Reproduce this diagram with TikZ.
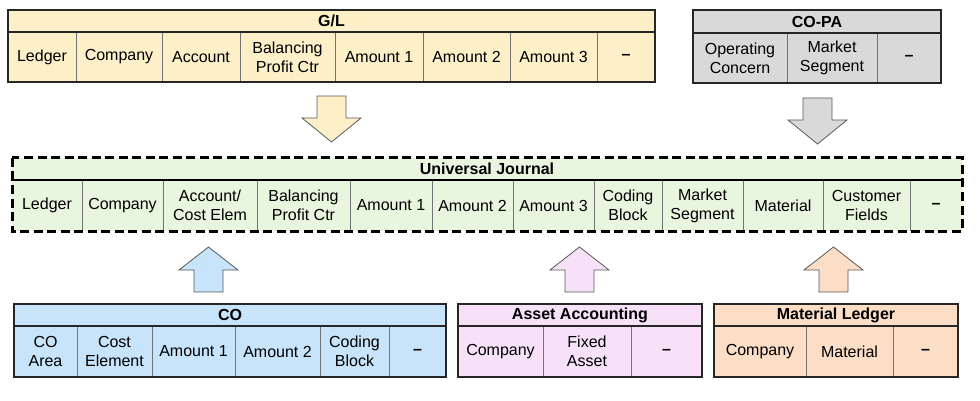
\documentclass[tikz,border=0pt]{standalone}
\usepackage{fontspec}
\setmainfont{Liberation Sans}

\definecolor{glfill}{HTML}{FDF0C9}
\definecolor{copafill}{HTML}{D9D9D9}
\definecolor{ujfill}{HTML}{E8F6DF}
\definecolor{cofill}{HTML}{C7E4FA}
\definecolor{aafill}{HTML}{F6E1F9}
\definecolor{mlfill}{HTML}{FCDDC6}

\begin{document}
\begin{tikzpicture}
	[x=1pt, y=-1pt,
	every node/.style={inner sep=0pt, outer sep=0pt, align=center, font=\fontsize{16}{19}\selectfont},
	cell/.style={minimum height=50pt},
	head/.style={minimum height=22pt, font=\fontsize{16}{19}\selectfont\bfseries},
	sep/.style={draw=black!55, line width=0.9pt},
	frame/.style={draw=black!85, line width=2pt},
	dashframe/.style={draw=black, line width=3pt, dash pattern=on 9pt off 4.5pt},
	blockarrow/.style={draw=black!65, line width=0.8pt}]
	\useasboundingbox (0,0) rectangle (980,401);
	% G/L
	\node[head, fill=glfill, minimum width=647pt] (gl) at (331.5,21) {G/L};
	\foreach \xl/\xr/\txt [count=\i] in {8/76/Ledger, 76/162/Company, 162/240/Account,
		240/335/{Balancing\\Profit Ctr}, 335/423/Amount 1, 423/510/Amount 2, 510/597/Amount 3, 597/655/\textbf{\textendash}}
		\node[cell, fill=glfill, minimum width=\xr pt-\xl pt] (gl-\i) at ({(\xl+\xr)/2},57) {\txt};
	\foreach \i in {1,...,7}
		\draw[sep] (gl-\i.north east) -- (gl-\i.south east);
	\draw[frame] (gl.south west) -- (gl.south east);
	\draw[frame] (gl.north west) rectangle (gl-8.south east);
	% CO-PA
	\node[head, fill=copafill, minimum width=248pt, minimum height=23pt] (copa) at (817,21.5) {CO-PA};
	\foreach \xl/\xr/\txt [count=\i] in {693/787/{Operating\\Concern}, 787/877/{Market\\Segment}, 877/941/\textbf{\textendash}}
		\node[cell, fill=copafill, minimum width=\xr pt-\xl pt] (copa-\i) at ({(\xl+\xr)/2},58) {\txt};
	\foreach \i in {1,2}
		\draw[sep] (copa-\i.north east) -- (copa-\i.south east);
	\draw[frame] (copa.south west) -- (copa.south east);
	\draw[frame] (copa.north west) rectangle (copa-3.south east);
	% Universal Journal
	\node[head, fill=ujfill, minimum width=950pt] (uj) at (487,169) {Universal Journal};
	\foreach \xl/\xr/\txt [count=\i] in {12/82/Ledger, 82/163/Company, 163/257/{Account/\\Cost Elem},
		257/350/{Balancing\\Profit Ctr}, 350/432/Amount 1, 432/513/Amount 2, 513/594/Amount 3,
		594/662/{Coding\\Block}, 662/743/{Market\\Segment}, 743/823/Material, 823/910/{Customer\\Fields}, 910/962/\textbf{\textendash}}
		\node[cell, fill=ujfill, minimum width=\xr pt-\xl pt, minimum height=51pt] (uj-\i) at ({(\xl+\xr)/2},205.5) {\txt};
	\foreach \i in {1,...,11}
		\draw[sep] (uj-\i.north east) -- (uj-\i.south east);
	\draw[frame, draw=black] (uj.south west) -- (uj.south east);
	\draw[dashframe] (uj.north west) rectangle (uj-12.south east);
	% CO
	\node[head, fill=cofill, minimum width=432pt] (co) at (230,315) {CO};
	\foreach \xl/\xr/\txt [count=\i] in {14/77/{CO\\Area}, 77/152/{Cost\\Element}, 152/235/Amount 1,
		235/320/Amount 2, 320/389/{Coding\\Block}, 389/446/\textbf{\textendash}}
		\node[cell, fill=cofill, minimum width=\xr pt-\xl pt, minimum height=51pt] (co-\i) at ({(\xl+\xr)/2},351.5) {\txt};
	\foreach \i in {1,...,5}
		\draw[sep] (co-\i.north east) -- (co-\i.south east);
	\draw[frame] (co.south west) -- (co.south east);
	\draw[frame] (co.north west) rectangle (co-6.south east);
	% Asset Accounting
	\node[head, fill=aafill, minimum width=244pt] (aa) at (580,315) {Asset Accounting};
	\foreach \xl/\xr/\txt [count=\i] in {458/543/Company, 543/631/{Fixed\\Asset}, 631/702/\textbf{\textendash}}
		\node[cell, fill=aafill, minimum width=\xr pt-\xl pt, minimum height=51pt] (aa-\i) at ({(\xl+\xr)/2},351.5) {\txt};
	\foreach \i in {1,2}
		\draw[sep] (aa-\i.north east) -- (aa-\i.south east);
	\draw[frame] (aa.south west) -- (aa.south east);
	\draw[frame] (aa.north west) rectangle (aa-3.south east);
	% Material Ledger
	\node[head, fill=mlfill, minimum width=244pt] (ml) at (836,315) {Material Ledger};
	\foreach \xl/\xr/\txt [count=\i] in {714/806/Company, 806/893/Material, 893/958/\textbf{\textendash}}
		\node[cell, fill=mlfill, minimum width=\xr pt-\xl pt, minimum height=51pt] (ml-\i) at ({(\xl+\xr)/2},351.5) {\txt};
	\foreach \i in {1,2}
		\draw[sep] (ml-\i.north east) -- (ml-\i.south east);
	\draw[frame] (ml.south west) -- (ml.south east);
	\draw[frame] (ml.north west) rectangle (ml-3.south east);
	% block arrows into the journal
	\foreach \c/\ya/\yb/\yc/\col in {331.5/96/118/142/glfill, 817.5/98/120/144/copafill,
		208.5/292/270/247/cofill, 579.5/292/270/247/aafill, 833.5/292/270/247/mlfill}
		\draw[blockarrow, fill=\col] (\c-14.5,\ya) -- (\c+14.5,\ya) -- (\c+14.5,\yb) -- (\c+29.5,\yb)
			-- (\c,\yc) -- (\c-29.5,\yb) -- (\c-14.5,\yb) -- cycle;
\end{tikzpicture}
\end{document}
